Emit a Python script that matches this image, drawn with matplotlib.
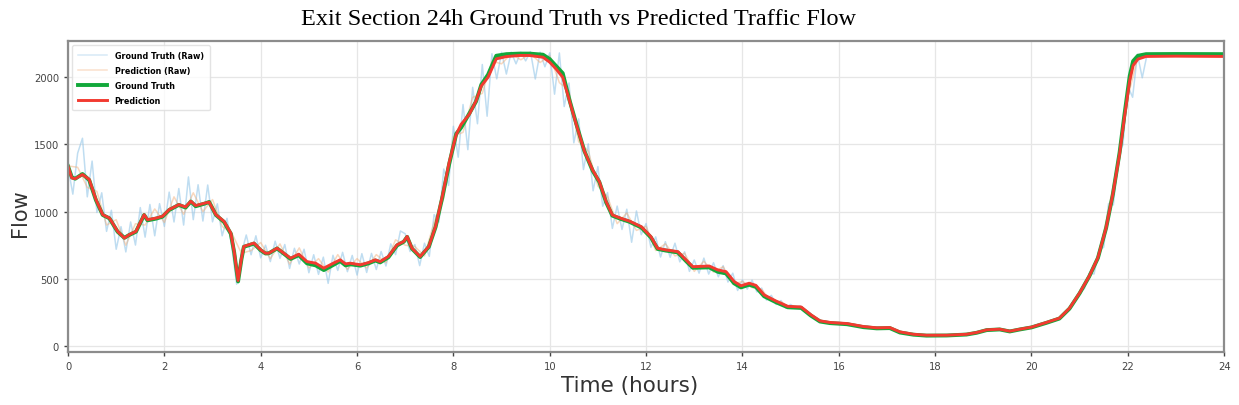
import numpy as np
import matplotlib
matplotlib.use("Agg")
import matplotlib.pyplot as plt

# Datos (flujo por hora del dia)
horas_suave = [
    0.0, 0.08, 0.15, 0.3, 0.44, 0.58, 0.72, 0.86, 1.03, 1.17, 1.27, 1.41, 1.58, 1.65, 1.83, 1.96,
    2.1, 2.3, 2.44, 2.55, 2.65, 2.86, 2.93, 3.07, 3.24, 3.38, 3.45, 3.53, 3.6, 3.65, 3.86, 4.0,
    4.1, 4.17, 4.34, 4.62, 4.79, 4.96, 5.14, 5.31, 5.48, 5.65, 5.76, 5.86, 6.07, 6.24, 6.38, 6.48,
    6.65, 6.83, 6.97, 7.04, 7.14, 7.31, 7.49, 7.63, 7.77, 7.91, 8.06, 8.16, 8.33, 8.47, 8.58, 8.72,
    8.89, 9.1, 9.37, 9.58, 9.86, 10.0, 10.13, 10.27, 10.41, 10.55, 10.72, 10.89, 11.03, 11.17, 11.3,
    11.48, 11.65, 11.9, 12.1, 12.24, 12.41, 12.66, 12.83, 12.97, 13.31, 13.49, 13.66, 13.83, 13.97,
    14.14, 14.28, 14.45, 14.7, 14.94, 15.22, 15.42, 15.61, 15.82, 16.17, 16.51, 16.79, 17.06, 17.27,
    17.55, 17.82, 18.24, 18.65, 18.86, 19.07, 19.34, 19.55, 19.76, 20.0, 20.31, 20.58, 20.79, 21.0,
    21.2, 21.38, 21.55, 21.69, 21.83, 21.93, 22.04, 22.11, 22.21, 22.38, 23.0, 24.0
]
prediccion = [
    1338, 1250, 1245, 1276, 1240, 1090, 977, 952, 853, 803, 828, 853, 977, 940, 952, 965,
    1015, 1052, 1035, 1077, 1045, 1065, 1070, 977, 927, 840, 700, 487, 650, 741, 766, 716,
    690, 691, 728, 653, 683, 628, 616, 579, 611, 641, 611, 616, 604, 621, 641, 628,
    666, 753, 778, 815, 728, 666, 741, 890, 1114, 1363, 1575, 1649, 1724, 1824, 1936, 2000,
    2137, 2154, 2162, 2162, 2149, 2112, 2062, 2000, 1824, 1649, 1450, 1311, 1224, 1075, 975,
    950, 930, 888, 814, 727, 715, 702, 640, 590, 595, 566, 553, 479, 448,
    467, 451, 380, 334, 295, 290, 233, 187, 175, 167, 145, 135, 137, 105,
    87, 80, 80, 87, 100, 120, 125, 110, 125, 140, 175, 207, 281, 395,
    520, 657, 880, 1130, 1430, 1700, 1975, 2087, 2135, 2155, 2157, 2155
]
real = [
    1338, 1255, 1245, 1280, 1235, 1085, 975, 950, 850, 805, 826, 850, 975, 935, 948, 962,
    1012, 1050, 1030, 1075, 1040, 1062, 1072, 975, 922, 835, 695, 480, 645, 738, 762, 712,
    688, 690, 726, 648, 676, 615, 600, 565, 598, 632, 600, 608, 598, 615, 636, 622,
    660, 748, 776, 812, 724, 662, 738, 885, 1105, 1350, 1580, 1625, 1730, 1820, 1945, 2020,
    2160, 2172, 2176, 2176, 2168, 2135, 2085, 2030, 1830, 1655, 1450, 1305, 1220, 1070, 970,
    945, 925, 882, 808, 722, 710, 696, 632, 582, 585, 552, 540, 466, 436,
    456, 440, 370, 325, 288, 283, 226, 182, 170, 162, 140, 131, 133, 100,
    84, 77, 78, 85, 98, 118, 123, 108, 123, 138, 172, 204, 278, 392,
    518, 655, 878, 1128, 1440, 1720, 2010, 2120, 2160, 2172, 2173, 2172
]

# Datos crudos cada 0.1 h (ground truth) y cada 0.2 h (prediccion)
real_crudo = [
    1330, 1130, 1435, 1546, 1110, 1376, 994, 1140, 853, 1010,
    720, 888, 700, 923, 751, 1030, 810, 1053, 820, 1059,
    890, 1145, 923, 1172, 900, 1258, 940, 1200, 930, 1198,
    924, 1058, 820, 950, 740, 460, 690, 826, 679, 820,
    656, 750, 628, 780, 652, 755, 577, 727, 610, 720,
    545, 679, 533, 661, 466, 675, 562, 697, 553, 674,
    528, 687, 547, 689, 569, 703, 595, 760, 680, 856,
    835, 703, 755, 598, 765, 667, 978, 922, 1317, 1195,
    1635, 1405, 1797, 1461, 1925, 1654, 2095, 1710, 2175, 1988,
    2186, 2024, 2187, 2100, 2187, 2122, 2191, 1987, 2187, 2078,
    2182, 1874, 2181, 1782, 1957, 1512, 1690, 1313, 1504, 1155,
    1335, 1040, 1142, 875, 1041, 867, 1018, 772, 1005, 828,
    911, 734, 812, 662, 776, 660, 765, 626, 701, 555,
    640, 542, 654, 535, 620, 515, 598, 476, 542, 413,
    491, 423, 490, 402, 431, 341, 377, 309, 338, 282,
    309, 285, 298, 260, 246, 205, 195, 176, 181, 168,
    176, 162, 170, 152, 157, 140, 146, 133, 139, 131,
    141, 124, 119, 98, 100, 86, 89, 79, 83, 76,
    77, 83, 78, 84, 80, 87, 84, 92, 94, 107,
    110, 124, 119, 127, 118, 117, 111, 124, 126, 137,
    143, 148, 166, 171, 190, 194, 218, 244, 292, 337,
    398, 427, 540, 536, 712, 735, 1060, 1050, 1405, 1500,
    1935, 1851, 2171, 1996, 2168, 2175, 2175, 2175, 2175, 2175,
    2175, 2175, 2175, 2175, 2175, 2175, 2175, 2175, 2175, 2175,
    2175
]
prediccion_cruda = [
    1340, 1330, 1180, 1150, 900,
    940, 750, 910, 900, 1020,
    920, 1110, 980, 1140, 1000,
    1090, 890, 840, 690, 710,
    770, 650, 760, 610, 730,
    580, 650, 550, 680, 570,
    650, 580, 680, 620, 790,
    750, 740, 670, 920, 1100,
    1560, 1590, 1850, 1880, 2120,
    2100, 2175, 2130, 2175, 2110,
    2160, 1960, 1900, 1520, 1450,
    1190, 1110, 910, 990, 860,
    890, 710, 760, 670, 690,
    555, 630, 550, 590, 460,
    480, 435, 420, 335, 330,
    285, 295, 235, 192, 174,
    172, 163, 154, 140, 136,
    136, 117, 95, 87, 79,
    81, 79, 83, 85, 97,
    112, 124, 119, 116, 127,
    142, 161, 188, 212, 290,
    390, 530, 670, 1020, 1380,
    1850, 2140, 2155, 2157, 2157,
    2157, 2156, 2156, 2156, 2156,
    2155, 2155, 2155, 2155, 2155,
    2155, 2155, 2155, 2155, 2155,
    2155, 2155, 2155, 2155, 2155,
    2155, 2155, 2155, 2155, 2155,
    2155
]

horas_real_crudo = np.arange(len(real_crudo)) * 0.1
horas_pred_cruda = np.arange(len(prediccion_cruda)) * 0.2

fig = plt.figure(figsize=(12.39, 4.06), dpi=100)
ax = fig.add_axes([0.0549, 0.1305, 0.9331, 0.7661])

ax.plot(horas_real_crudo, real_crudo, color='#8cc2e6', alpha=0.55, lw=1.1, label='Ground Truth (Raw)')
ax.plot(horas_pred_cruda, prediccion_cruda, color='#f2a86e', alpha=0.45, lw=1.1, label='Prediction (Raw)')
ax.plot(horas_suave, real, color='#12a83a', lw=2.8, label='Ground Truth')
ax.plot(horas_suave, prediccion, color='#f23a30', lw=2.1, label='Prediction')

ax.set_xlim(0, 24)
ax.set_ylim(-45, 2270)
ax.set_xticks(np.arange(0, 25, 2))
ax.set_yticks([0, 500, 1000, 1500, 2000])
ax.grid(True, color='#e6e6e6', lw=0.9)
ax.set_axisbelow(True)
ax.tick_params(labelsize=7.2, colors='#444444', length=3, width=1)
for sp in ax.spines.values():
    sp.set_color('#8c8c8c')
    sp.set_linewidth(1.6)

ax.set_xlabel('Time (hours)', fontsize=15.5, color='#333333')
ax.xaxis.set_label_coords(0.486, -0.075)
ax.set_ylabel('Flow', fontsize=15, color='#333333')
ax.yaxis.set_label_coords(-0.033, 0.45)

fig.text(0.467, 0.952, 'Exit Section 24h Ground Truth vs Predicted Traffic Flow',
         family='Liberation Serif', fontsize=17.5, ha='center', va='center')

leg = ax.legend(loc='upper left', prop={'size': 5.8, 'weight': 'bold'}, handlelength=3.6,
                frameon=True, borderpad=0.7, labelspacing=0.75, handletextpad=1.0)
leg.get_frame().set_edgecolor('#dddddd')
for h in leg.get_lines()[:2]:
    h.set_alpha(0.35)

fig.savefig('out.png', dpi=100)
